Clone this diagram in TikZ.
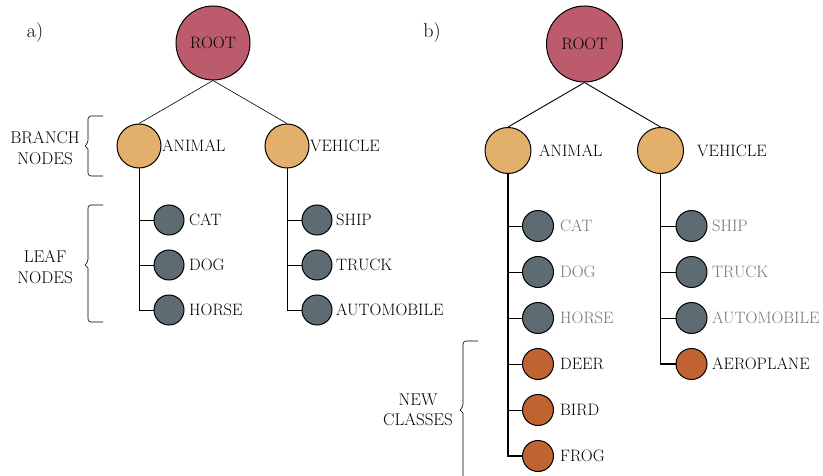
\documentclass[tikz,border=0pt]{standalone}
\usepackage{xcolor}
\definecolor{rootc}{HTML}{BC5B6C}
\definecolor{branchc}{HTML}{E2B06A}
\definecolor{leafc}{HTML}{5D6C73}
\definecolor{newc}{HTML}{BE6331}
\definecolor{greytxt}{HTML}{767676}
\begin{document}
\begin{tikzpicture}[x=1pt,y=-1pt,
  every node/.style={font=\fontsize{16.5}{19}\selectfont,text=black},
  rootnode/.style={circle,draw,line width=1pt,fill=rootc,inner sep=0pt},
  branchnode/.style={circle,draw,line width=1pt,fill=branchc,inner sep=0pt},
  leafnode/.style={circle,draw,line width=1pt,fill=leafc,inner sep=0pt,minimum size=30pt},
  newnode/.style={circle,draw,line width=1pt,fill=newc,inner sep=0pt,minimum size=31pt},
  lbl/.style={anchor=west,inner sep=0pt},
  glbl/.style={anchor=west,inner sep=0pt,text=greytxt},
  sidelbl/.style={align=center,inner sep=0pt,font=\fontsize{17}{20.5}\selectfont},
  thinlink/.style={line width=0.6pt},
  trunk/.style={line width=0.9pt},
  thinlinkb/.style={line width=0.9pt},
  trunkb/.style={line width=1.3pt},
  bracket/.style={line width=0.6pt,rounded corners=3pt}]
\useasboundingbox (0,0) rectangle (823,476);

% ---------------- panel a ----------------
\node[inner sep=0pt,font=\fontsize{20}{22}\selectfont] (la) at (35,33) {a)};
\node[rootnode,minimum size=74pt] (rootA) at (213,43) {ROOT};
\node[branchnode,minimum size=44pt] (animA) at (139,146) {};
\node[branchnode,minimum size=44pt] (vehA) at (287,146) {};
\node[lbl] (animAl) at (162,146) {ANIMAL};
\node[lbl] (vehAl) at (310,146) {VEHICLE};
\draw[thinlink] (rootA.south) -- (animA.north);
\draw[thinlink] (rootA.south) -- (vehA.north);

\node[leafnode] (catA) at (169,220) {};
\node[leafnode] (dogA) at (169,265) {};
\node[leafnode] (horseA) at (169,310) {};
\node[lbl] (catAl) at (189,220) {CAT};
\node[lbl] (dogAl) at (189,265) {DOG};
\node[lbl] (horseAl) at (189,310) {HORSE};
\draw[trunk] (animA.south) |- (horseA.west);
\draw[thinlink] (animA.south |- catA.west) -- (catA.west);
\draw[thinlink] (animA.south |- dogA.west) -- (dogA.west);

\node[leafnode] (shipA) at (317,220) {};
\node[leafnode] (truckA) at (317,265) {};
\node[leafnode] (autoA) at (317,310) {};
\node[lbl] (shipAl) at (336,220) {SHIP};
\node[lbl] (truckAl) at (336,265) {TRUCK};
\node[lbl] (autoAl) at (336,310) {AUTOMOBILE};
\draw[trunk] (vehA.south) |- (autoA.west);
\draw[thinlink] (vehA.south |- shipA.west) -- (shipA.west);
\draw[thinlink] (vehA.south |- truckA.west) -- (truckA.west);

% braces a
\node[sidelbl] (brl) at (45,148) {BRANCH\\NODES};
\draw[bracket] (103,116) -- (88,116) -- (88,143) [sharp corners] -- (85,146) -- (88,149) [rounded corners=3pt] -- (88,176) -- (103,176);
\node[sidelbl] (lfl) at (45,267) {LEAF\\NODES};
\draw[bracket] (103,205) -- (88,205) -- (88,262) [sharp corners] -- (85,265) -- (88,268) [rounded corners=3pt] -- (88,322) -- (103,322);

% ---------------- panel b ----------------
\node[inner sep=0pt,font=\fontsize{20}{22}\selectfont] (lb) at (432,33) {b)};
\node[rootnode,minimum size=76pt] (rootB) at (584.5,44) {ROOT};
\node[branchnode,minimum size=46pt] (animB) at (508,150.5) {};
\node[branchnode,minimum size=46pt] (vehB) at (660.5,150.5) {};
\node[lbl] (animBl) at (539,150.5) {ANIMAL};
\node[lbl] (vehBl) at (697,150.5) {VEHICLE};
\draw[thinlinkb] (rootB.south) -- (animB.north);
\draw[thinlinkb] (rootB.south) -- (vehB.north);

\node[leafnode,minimum size=31pt] (catB) at (538,226) {};
\node[leafnode,minimum size=31pt] (dogB) at (538,272) {};
\node[leafnode,minimum size=31pt] (horseB) at (538,318) {};
\node[newnode] (deerB) at (538,364) {};
\node[newnode] (birdB) at (538,410) {};
\node[newnode] (frogB) at (538,456) {};
\node[glbl] (catBl) at (560,226) {CAT};
\node[glbl] (dogBl) at (560,272) {DOG};
\node[glbl] (horseBl) at (560,318) {HORSE};
\node[lbl] (deerBl) at (560,364) {DEER};
\node[lbl] (birdBl) at (560,410) {BIRD};
\node[lbl] (frogBl) at (560,456) {FROG};
\draw[trunkb] (animB.south) |- (frogB.west);
\foreach \n in {catB,dogB,horseB,deerB,birdB}
  \draw[thinlinkb] (animB.south |- \n.west) -- (\n.west);

\node[leafnode,minimum size=31pt] (shipB) at (691.5,226) {};
\node[leafnode,minimum size=31pt] (truckB) at (691.5,272) {};
\node[leafnode,minimum size=31pt] (autoB) at (691.5,318) {};
\node[newnode] (aeroB) at (691.5,364) {};
\node[glbl] (shipBl) at (712,226) {SHIP};
\node[glbl] (truckBl) at (712,272) {TRUCK};
\node[glbl] (autoBl) at (712,318) {AUTOMOBILE};
\node[lbl] (aeroBl) at (712,364) {AEROPLANE};
\draw[trunkb] (vehB.south) |- (aeroB.west);
\foreach \n in {shipB,truckB,autoB}
  \draw[thinlinkb] (vehB.south |- \n.west) -- (\n.west);

% brace b
\node[sidelbl] (ncl) at (418,410) {NEW\\CLASSES};
\draw[bracket] (478,341) -- (463,341) -- (463,407) [sharp corners] -- (460,410) -- (463,413) -- (463,480);
\end{tikzpicture}
\end{document}
